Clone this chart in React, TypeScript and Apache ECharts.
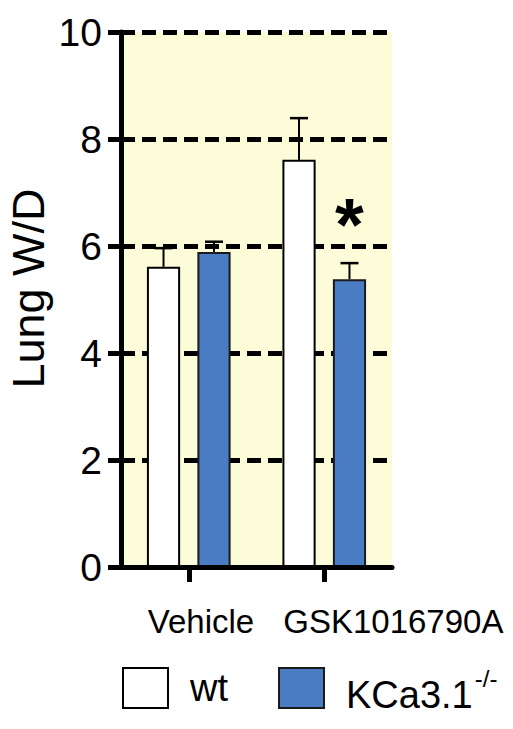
import React, { useEffect, useRef } from "react";
import * as echarts from "echarts";

const categories = ["Vehicle", "GSK1016790A"];
const wtMean = [5.61, 7.61];
const wtErr = [0.35, 0.78];
const koMean = [5.89, 5.38];
const koErr = [0.19, 0.3];
const yTicks = { min: 0, max: 10, interval: 2 };
const seriesNames = ["wt", "KCa3.1"];
const significance = ["", "*"];

const FONT = "'Liberation Sans', Arial, sans-serif";
const BAR_W = 0.245; // fraction of band
const BAR_GAP = 0.52; // fraction of bar width

export default function App() {
  const ref = useRef<HTMLDivElement>(null);
  useEffect(() => {
    if (!ref.current) return;
    const chart = echarts.init(ref.current, null, { renderer: "svg" });

    const errData = (means: number[], errs: number[]) =>
      means.map((m, i) => [i, m, m + errs[i]]);

    const errSeries = (name: string, means: number[], errs: number[], sign: number) => ({
      type: "custom",
      name: name + "-err",
      z: 3,
      silent: true,
      data: errData(means, errs),
      renderItem: (params: any, api: any) => {
        const cat = api.value(0);
        const band = api.size([1, 0])[0];
        const off = sign * band * BAR_W * (1 + BAR_GAP) / 2;
        const b = api.coord([cat, api.value(1)]);
        const t = api.coord([cat, api.value(2)]);
        const x = b[0] + off;
        const cap = 9;
        return {
          type: "group",
          children: [
            { type: "line", shape: { x1: x, y1: b[1], x2: x, y2: t[1] }, style: { stroke: "#000", lineWidth: 2 } },
            { type: "line", shape: { x1: x - cap, y1: t[1], x2: x + cap, y2: t[1] }, style: { stroke: "#000", lineWidth: 2.5 } },
          ],
        };
      },
    });

    const option: any = {
      animation: false,
      backgroundColor: "#ffffff",
      textStyle: { fontFamily: FONT },
      grid: {
        left: 121,
        right: 121,
        top: 32,
        bottom: 162,
        containLabel: false,
        outerBoundsMode: "none",
        show: true,
        backgroundColor: "#fdfcd8",
        borderWidth: 0,
      },
      legend: {
        left: 122,
        top: 666,
        padding: 0,
        itemWidth: 45,
        itemHeight: 40,
        itemGap: 50,
        icon: "rect",
        data: [
          { name: seriesNames[0], itemStyle: { color: "#ffffff", borderColor: "#000", borderWidth: 2 } },
          { name: seriesNames[1], itemStyle: { color: "#4a7cc3", borderColor: "#1a1a1a", borderWidth: 2 } },
        ],
        formatter: (n: string) => (n === "KCa3.1" ? "{m|KCa3.1}{sup|-/-}" : "{w|" + n + "}"),
        textStyle: {
          fontFamily: FONT,
          color: "#000",
          fontSize: 38,
          padding: [0, 0, 0, 17],
          rich: {
            w: { fontSize: 38, fontFamily: FONT, color: "#000" },
            m: { fontSize: 38, fontFamily: FONT, color: "#000", padding: [14, 0, 0, 0] },
            sup: { fontSize: 24, fontFamily: FONT, color: "#000", verticalAlign: "top", padding: [4, 0, 0, 2] },
          },
        },
      },
      xAxis: {
        type: "category",
        data: categories,
        z: 10,
        axisLine: { show: true, lineStyle: { color: "#000", width: 5 } },
        axisTick: { show: true, alignWithLabel: true, interval: 0, length: 15, lineStyle: { color: "#000", width: 5 } },
        axisLabel: {
          color: "#000",
          fontSize: 33,
          fontFamily: FONT,
          margin: 38,
          interval: 0,
          hideOverlap: false,
          align: "left",
          padding: [0, 0, 0, -41],
        },
        splitLine: { show: false },
      },
      yAxis: {
        type: "value",
        min: yTicks.min,
        max: yTicks.max,
        interval: yTicks.interval,
        name: "Lung W/D",
        nameLocation: "middle",
        nameMoveOverlap: false,
        nameGap: 70,
        nameTextStyle: { fontSize: 45, fontFamily: FONT, color: "#000", padding: [0, 0, 0, 22] },
        axisLine: { show: true, lineStyle: { color: "#000", width: 5 } },
        axisTick: { show: true, length: 13, lineStyle: { color: "#000", width: 5 } },
        axisLabel: { color: "#000", fontSize: 39, fontFamily: FONT, margin: 19 },
        splitLine: { show: true, lineStyle: { color: "#000", width: 5, type: [14, 7] } },
      },
      series: [
        {
          type: "bar",
          name: seriesNames[0],
          data: wtMean,
          barWidth: BAR_W * 100 + "%",
          barGap: BAR_GAP * 100 + "%",
          itemStyle: { color: "#ffffff", borderColor: "#000", borderWidth: 2 },
        },
        {
          type: "bar",
          name: seriesNames[1],
          data: koMean.map((v, i) => ({
            value: v,
            label: significance[i]
              ? {
                  show: true,
                  formatter: significance[i],
                  position: "top",
                  distance: 18,
                  fontSize: 74,
                  fontWeight: "bold",
                  color: "#000",
                  fontFamily: FONT,
                }
              : { show: false },
          })),
          barWidth: BAR_W * 100 + "%",
          barGap: BAR_GAP * 100 + "%",
          itemStyle: { color: "#4a7cc3", borderColor: "#1a1a1a", borderWidth: 2 },
        },
        errSeries(seriesNames[0], wtMean, wtErr, -1),
        errSeries(seriesNames[1], koMean, koErr, 1),
      ],
    };
    chart.setOption(option);
    return () => chart.dispose();
  }, []);
  return (
    <div
      ref={ref}
      style={{ position: "fixed", left: 0, top: 0, width: 513, height: 729, background: "#fff" }}
    />
  );
}
